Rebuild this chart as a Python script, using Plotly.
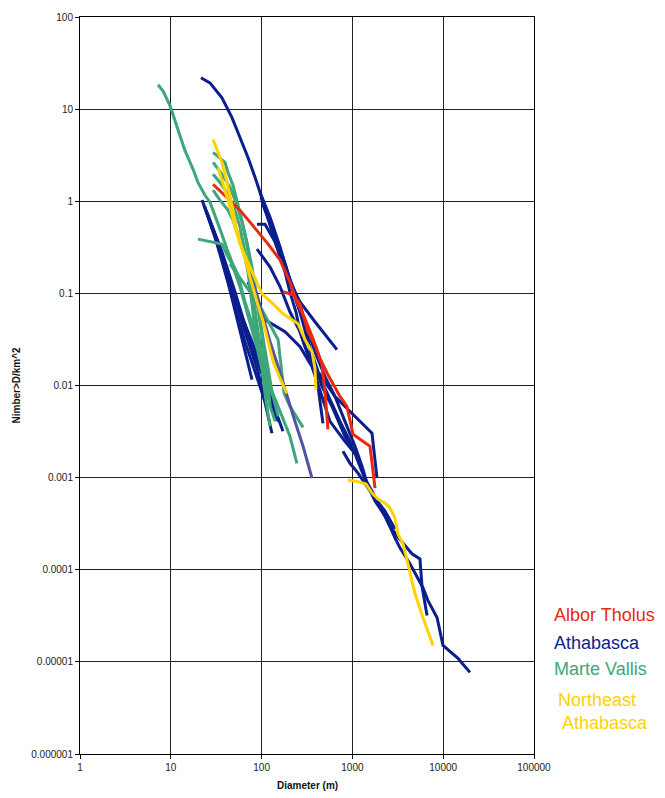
import plotly.graph_objects as go

# ---------------- data (Diameter m, Number > D per km^2) ----------------
# Athabasca
ath1_d = [21.5, 27.0, 36.6, 47.2, 57.8, 70.8, 84.6, 93.7, 109, 130, 152, 181, 205, 239, 265, 301, 368, 418, 474]
ath1_n = [21.9, 19.3, 13.3, 8.09, 4.92, 2.99, 1.82, 1.32, 0.861, 0.462, 0.281, 0.171, 0.104, 0.0631, 0.0384, 0.0264, 0.0182, 0.00975, 0.00388]
ath2_d = [96, 124, 160, 205, 265, 387, 676]
ath2_n = [1.25, 0.671, 0.318, 0.133, 0.0809, 0.0492, 0.0245]
ath3_d = [98.4, 130, 172, 216, 265, 324, 418, 643, 941, 1644, 1866]
ath3_n = [1.10, 0.524, 0.248, 0.118, 0.0631, 0.0299, 0.0142, 0.0076, 0.00524, 0.00303, 0.000988]
ath4_d = [101, 137, 186, 233, 301, 359, 462, 596, 828, 1125]
ath4_n = [0.976, 0.439, 0.193, 0.0917, 0.0434, 0.0206, 0.00975, 0.00593, 0.00281, 0.00171]
ath5_d = [89, 109, 141, 181, 233, 301, 387, 499, 643, 828, 1069, 1276, 1486, 1775, 2286, 2944, 3342, 4305, 5984, 6800, 8550, 9950, 14560, 19720]
ath5_n = [0.564, 0.564, 0.360, 0.193, 0.104, 0.0492, 0.0233, 0.0125, 0.0076, 0.00408, 0.00219, 0.00133, 0.000809, 0.000557,
          0.000384, 0.000222, 0.000173, 0.000116, 6.38e-5, 4.62e-5, 3.03e-5, 1.51e-5, 1.09e-5, 7.69e-6]
ath6_d = [89, 124, 160, 205, 265, 341, 462, 730, 941, 1153, 1377, 1644, 2014, 2594, 3097, 4529, 5546, 5834, 6637]
ath6_n = [0.303, 0.193, 0.118, 0.0631, 0.0384, 0.0182, 0.0110, 0.00408, 0.00248, 0.00151, 0.000964, 0.000714, 0.000492,
          0.000299, 0.000233, 0.000149, 0.000131, 6.71e-5, 3.18e-5]
ath7_d = [787, 941, 1153, 1413, 1775, 2286, 2944]
ath7_n = [0.00193, 0.00143, 0.00112, 0.00083, 0.0006, 0.000434, 0.000277]
ath8_d = [70.8, 91.3, 109, 181, 265, 359, 462, 566, 828, 1125]
ath8_n = [0.133, 0.0714, 0.0517, 0.0384, 0.0264, 0.016, 0.0076, 0.00408, 0.00248, 0.00171]
ath9_d = [22.1, 30.7, 42.6, 57.8, 78.4]
ath9_n = [1.03, 0.408, 0.133, 0.0384, 0.0116]
ath10_d = [23.2, 33.1, 44.9, 65.6, 91.3, 130]
ath10_n = [0.906, 0.36, 0.133, 0.0384, 0.0142, 0.00303]
ath11_d = [25.0, 36.6, 50.9, 74.5, 109, 172]
ath11_n = [0.76, 0.281, 0.104, 0.0299, 0.011, 0.00318]
ath12_d = [28.4, 42.6, 57.8, 91.3, 124, 152]
ath12_n = [0.524, 0.171, 0.0631, 0.0206, 0.00671, 0.00408]
ath13_d = [23.8, 34.8, 47.2, 65.6, 84.6, 109]
ath13_n = [0.861, 0.281, 0.0917, 0.0299, 0.0142, 0.00671]

# Marte Vallis
mv1_d = [7.23, 8.2, 9.8, 11.1, 12.6, 14.3, 16.3, 17.6, 19.9, 23.8, 27.0, 30.7, 34.8, 41.6, 47.2, 55.0, 65.6, 84.6, 101, 124, 160, 205, 245]
mv1_n = [18.4, 15.8, 10.9, 7.52, 5.17, 3.56, 2.64, 2.22, 1.60, 1.16, 0.976, 0.706, 0.498, 0.303, 0.219, 0.158, 0.0809, 0.0384,
         0.0182, 0.00975, 0.00524, 0.00281, 0.00143]
mv2_d = [19.9, 25.7, 36.6, 41.6, 47.2, 57.8, 74.5, 91.3, 109, 124, 141]
mv2_n = [0.388, 0.370, 0.343, 0.261, 0.208, 0.118, 0.0492, 0.0233, 0.011, 0.00593, 0.00408]
mv3_d = [29.2, 39.5, 42.6, 48.4, 55.0, 62.4, 69.0, 74.5, 80.4, 89.0, 101, 115, 130, 152]
mv3_n = [3.39, 2.64, 2.06, 1.49, 0.906, 0.55, 0.334, 0.203, 0.133, 0.0809, 0.0384, 0.0182, 0.00861, 0.00462]
mv4_d = [29.2, 36.6, 44.9, 52.2, 60.8, 69.0, 78.4, 86.7, 96, 106, 118, 124]
mv4_n = [2.64, 1.96, 1.42, 0.976, 0.593, 0.36, 0.193, 0.104, 0.0492, 0.0233, 0.011, 0.00593]
mv5_d = [29.2, 34.8, 42.6, 49.7, 57.8, 65.6, 74.5, 82.4, 91.3, 104, 118]
mv5_n = [1.96, 1.60, 1.19, 0.861, 0.524, 0.281, 0.151, 0.0809, 0.0384, 0.0182, 0.0076]
mv6_d = [29.2, 34.8, 42.6, 48.4, 55.0, 64.0, 70.8, 78.4, 86.7, 101, 112, 124]
mv6_n = [1.32, 1.03, 0.80, 0.623, 0.439, 0.281, 0.171, 0.0809, 0.0339, 0.0153, 0.00671, 0.00360]
mv7_d = [44.9, 74.5, 101, 152, 164, 177, 205, 286]
mv7_n = [0.208, 0.104, 0.0663, 0.0314, 0.016, 0.0082, 0.00593, 0.00351]

# slate-blue series
sb1_d = [69.0, 74.5, 89, 104, 124, 152, 190, 233, 286, 359]
sb1_n = [0.193, 0.162, 0.0964, 0.0557, 0.0299, 0.016, 0.0076, 0.00408, 0.00219, 0.000988]

# Albor Tholus
at1_d = [29.2, 44.9, 57.8, 74.5, 96, 118, 160, 205, 245, 301, 368, 440, 538, 730, 871, 1016, 1563, 1775]
at1_n = [1.53, 1.03, 0.80, 0.593, 0.439, 0.343, 0.230, 0.133, 0.0809, 0.053, 0.0322, 0.0196, 0.0131, 0.0076, 0.00593,
         0.00295, 0.00219, 0.000769]
at2_d = [172, 222, 265, 324, 387, 462, 499, 538]
at2_n = [0.104, 0.0964, 0.0769, 0.0384, 0.0277, 0.0169, 0.00861, 0.00334]

# Northeast Athabasca
ne1_d = [29.2, 32.3, 36.6, 41.6, 47.2, 52.2, 57.8, 65.6, 74.5, 89, 104, 118, 134, 160, 190]
ne1_n = [4.68, 3.65, 2.64, 1.60, 0.906, 0.524, 0.360, 0.236, 0.151, 0.0809, 0.0492, 0.0299, 0.0182, 0.0119, 0.0082]
ne2_d = [33.1, 38.5, 44.9, 50.9, 57.8, 74.5, 101, 134, 172, 252, 301, 359, 387, 397]
ne2_n = [2.33, 1.42, 0.861, 0.524, 0.343, 0.193, 0.0988, 0.0769, 0.0600, 0.0468, 0.0314, 0.0233, 0.0153, 0.00906]
ne3_d = [893, 1213, 1413, 1644, 1914, 2286, 2594, 2944, 3177, 3606, 4093, 4887, 5984, 7727]
ne3_n = [0.00094, 0.000894, 0.000851, 0.000679, 0.000586, 0.00053, 0.000468, 0.000365, 0.000245, 0.000191, 0.000116,
         5.51e-5, 3.03e-5, 1.51e-5]

x_ticks = [1, 10, 100, 1000, 10000, 100000]
x_labels = ["1", "10", "100", "1000", "10000", "100000"]
y_ticks = [1e-6, 1e-5, 1e-4, 1e-3, 1e-2, 1e-1, 1, 10, 100]
y_labels = ["0.000001", "0.00001", "0.0001", "0.001", "0.01", "0.1", "1", "10", "100"]

legend_names = ["Albor Tholus", "Athabasca", "Marte Vallis", "Northeast<br> Athabasca"]

# ---------------- styling ----------------
BLUE = "#0B1E8E"
RED = "#E82A10"
GREEN = "#3DA67B"
YELLOW = "#FFD200"
SLATE = "#5352A6"
LW = 3

series = [
    (ath1_d, ath1_n, BLUE), (ath2_d, ath2_n, BLUE), (ath3_d, ath3_n, BLUE), (ath4_d, ath4_n, BLUE),
    (ath5_d, ath5_n, BLUE), (ath6_d, ath6_n, BLUE), (ath7_d, ath7_n, BLUE), (ath8_d, ath8_n, BLUE),
    (ath9_d, ath9_n, BLUE), (ath10_d, ath10_n, BLUE), (ath11_d, ath11_n, BLUE), (ath12_d, ath12_n, BLUE),
    (ath13_d, ath13_n, BLUE),
    (mv1_d, mv1_n, GREEN), (mv2_d, mv2_n, GREEN), (mv3_d, mv3_n, GREEN), (mv4_d, mv4_n, GREEN),
    (mv5_d, mv5_n, GREEN), (mv6_d, mv6_n, GREEN), (mv7_d, mv7_n, GREEN),
    (sb1_d, sb1_n, SLATE),
    (at1_d, at1_n, RED), (at2_d, at2_n, RED),
    (ne1_d, ne1_n, YELLOW), (ne2_d, ne2_n, YELLOW), (ne3_d, ne3_n, YELLOW),
]

fig = go.Figure()
for d, n, c in series:
    fig.add_trace(go.Scatter(x=d, y=n, mode="lines", line=dict(color=c, width=LW),
                             showlegend=False, hoverinfo="skip"))

FONT = "Liberation Sans, Arial, sans-serif"

fig.update_layout(
    width=665, height=798,
    margin=dict(l=80, r=131, t=11, b=44),
    paper_bgcolor="white", plot_bgcolor="white",
    font=dict(family=FONT, size=10, color="#222"),
)
fig.update_xaxes(type="log", range=[0, 5], tickvals=x_ticks, ticktext=x_labels,
                 showgrid=True, gridcolor="#222", gridwidth=1,
                 showline=True, linecolor="#000", linewidth=1, mirror=True,
                 ticks="outside", ticklen=4, tickcolor="#000", zeroline=False,
                 tickfont=dict(size=10, family=FONT, color="#222"))
fig.update_yaxes(type="log", range=[-6, 2], tickvals=y_ticks, ticktext=y_labels,
                 showgrid=True, gridcolor="#222", gridwidth=1,
                 showline=True, linecolor="#000", linewidth=1, mirror=True,
                 ticks="outside", ticklen=4, tickcolor="#000", zeroline=False,
                 tickfont=dict(size=10, family=FONT, color="#222"))

annots = [
    dict(text="<b>Diameter (m)</b>", xref="paper", yref="paper", x=0.5, y=0, yshift=-31,
         xanchor="center", yanchor="middle", showarrow=False, font=dict(size=10, family=FONT, color="#111")),
    dict(text="<b>Nimber&gt;D/km^2</b>", xref="paper", yref="paper", x=0, y=0.5, xshift=-64,
         xanchor="center", yanchor="middle", textangle=-90, showarrow=False,
         font=dict(size=10, family=FONT, color="#111")),
]
legend_pos = [(552, 614, RED), (552, 642, BLUE), (552, 668, GREEN), (556, 711, YELLOW)]
for name, (px, py, col) in zip(legend_names, legend_pos):
    annots.append(dict(text=name, xref="paper", yref="paper",
                       x=(px - 80) / 454, y=(754 - py) / 743,
                       xanchor="left", yanchor="middle", align="left", showarrow=False,
                       font=dict(size=18, family=FONT, color=col)))
fig.update_layout(annotations=annots)

fig.write_html("out.html", config={"displayModeBar": False},
               post_script="document.body.style.margin='0';document.body.style.padding='0';")
